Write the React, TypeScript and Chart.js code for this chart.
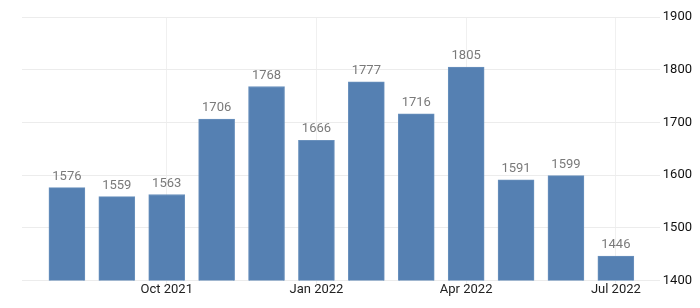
import React, { useEffect, useRef } from "react";
import { Chart, registerables } from "chart.js";

Chart.register(...registerables);

const months = ["Aug 2021", "Sep 2021", "Oct 2021", "Nov 2021", "Dec 2021", "Jan 2022", "Feb 2022", "Mar 2022", "Apr 2022", "May 2022", "Jun 2022", "Jul 2022"];
const values = [1576, 1559, 1563, 1706, 1768, 1666, 1777, 1716, 1805, 1591, 1599, 1446];
const tickIndexes = [2, 5, 8, 11];
const tickLabels = ["Oct 2021", "Jan 2022", "Apr 2022", "Jul 2022"];
const yTicks = [1400, 1500, 1600, 1700, 1800, 1900];

const FONT = "Roboto, 'Noto Sans', sans-serif";

const labelPlugin = {
  id: "barLabels",
  afterDatasetsDraw(chart: any) {
    const ctx = chart.ctx;
    const meta = chart.getDatasetMeta(0);
    ctx.save();
    ctx.font = `13px ${FONT}`;
    ctx.fillStyle = "#7a7a7a";
    ctx.textAlign = "center";
    ctx.textBaseline = "alphabetic";
    meta.data.forEach((bar: any, i: number) => {
      ctx.fillText(String(values[i]), bar.x, bar.y - 8);
    });
    ctx.restore();
  },
};

export default function App() {
  const ref = useRef<HTMLCanvasElement | null>(null);
  useEffect(() => {
    if (!ref.current) return;
    const chart = new Chart(ref.current, {
      type: "bar",
      data: {
        labels: months,
        datasets: [
          {
            data: values.map((v, i) => ({ x: i, y: v })),
            backgroundColor: "#5580b2",
            borderColor: "#6a91bd",
            borderWidth: 1,
            barThickness: 36,
          },
        ],
      },
      options: {
        animation: false,
        responsive: true,
        maintainAspectRatio: false,
        layout: { padding: { top: 17, left: 22, right: 5, bottom: 12 } },
        plugins: { legend: { display: false }, tooltip: { enabled: false } },
        scales: {
          x: {
            type: "linear",
            min: -0.9,
            max: 11.88,
            offset: false,
            afterBuildTicks: (scale: any) => {
              scale.ticks = tickIndexes.map((v) => ({ value: v }));
            },
            ticks: {
              autoSkip: false,
              maxRotation: 0,
              color: "#222",
              font: { family: FONT, size: 13 },
              padding: -2,
              callback: (v: any) => {
                const k = tickIndexes.indexOf(Number(v));
                return k >= 0 ? tickLabels[k] : "";
              },
            },
            grid: { color: "#f0f0f0", tickLength: 4, drawTicks: true, offset: false },
            border: { display: false },
          },
          y: {
            position: "right",
            min: 1400,
            max: 1900,
            afterBuildTicks: (scale: any) => {
              scale.ticks = yTicks.map((v) => ({ value: v }));
            },
            ticks: {
              color: "#111",
              font: { family: FONT, size: 13 },
              padding: 3,
              callback: (v: any) => String(v),
            },
            grid: { color: "#ececec", drawTicks: false },
            border: { display: false },
          },
        },
      },
      plugins: [labelPlugin],
    });
    return () => chart.destroy();
  }, []);
  return (
    <div style={{ position: "fixed", left: 0, top: 0, width: 700, height: 308 }}>
      <canvas ref={ref} />
    </div>
  );
}
